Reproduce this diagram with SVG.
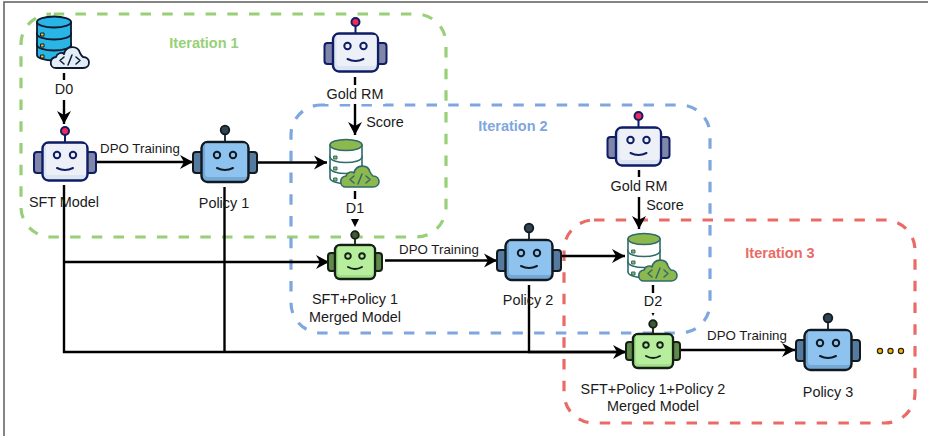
<svg xmlns="http://www.w3.org/2000/svg" width="928" height="436" viewBox="0 0 928 436">
<style>
text{font-family:"Liberation Sans",Arial,sans-serif;font-size:14.400px;fill:#1a1a1a;text-anchor:middle}
.small{font-size:13.300px}
.it{font-size:14.500px;font-weight:bold}
.box{fill:none;stroke-width:3.200;stroke-dasharray:10.500 11.200}
.c{fill:none;stroke:#000;stroke-width:2.400}
.lb{fill:#fff}
.sw{stroke-linejoin:round;stroke-linecap:round}
</style>
<defs>
<marker id="arr" markerUnits="userSpaceOnUse" markerWidth="16" markerHeight="16" refX="14" refY="8" orient="auto"><path d="M1 1L14 8L1 15L5 8Z" fill="#000"/></marker>
<g id="robot-gold" class="sw">
<rect x="-31" y="-10" width="10" height="21" rx="3" fill="#7f86a8" stroke="#0f1c66" stroke-width="2"/>
<rect x="21" y="-10" width="10" height="21" rx="3" fill="#7f86a8" stroke="#0f1c66" stroke-width="2"/>
<path d="M0 -20V-27" stroke="#0f1c66" stroke-width="2"/>
<circle cx="0" cy="-31" r="4" fill="#ef2a5a" stroke="#0f1c66" stroke-width="2"/>
<rect x="-22.500" y="-19.500" width="45" height="38" rx="6" fill="#dce5f2" stroke="#0f1c66" stroke-width="2.400"/>
<path d="M-19 -18H19Q21 -18 21 -16V10Q21 13 18 13H-16Q-19 13 -19 10Z" fill="#edf1f7"/>
<g stroke="#0f1c66" fill="none"><circle cx="-8" cy="-7" r="3.200" stroke-width="2"/><circle cx="8" cy="-7" r="3.200" stroke-width="2"/><path d="M-8 6Q0 10 8 6" stroke-width="2"/></g>
</g>
<g id="robot-blue" class="sw">
<rect x="-32" y="-10" width="10" height="21" rx="3" fill="#557a9e" stroke="#101a20" stroke-width="2"/>
<rect x="22" y="-10" width="10" height="21" rx="3" fill="#557a9e" stroke="#101a20" stroke-width="2"/>
<path d="M0 -20V-28" stroke="#2a3a44" stroke-width="2"/>
<circle cx="0" cy="-32" r="4.300" fill="#2f4350" stroke="#101a20" stroke-width="1.800"/>
<rect x="-23.500" y="-20" width="47" height="40" rx="6" fill="#74a9d6" stroke="#101a20" stroke-width="2.400"/>
<path d="M-20 -18.500H20Q22 -18.500 22 -16V13Q22 15 19 15H-17Q-20 15 -20 12Z" fill="#8ec3f0"/>
<g stroke="#101a20" fill="none"><circle cx="-8" cy="-7" r="3.200" stroke-width="2"/><circle cx="8" cy="-7" r="3.200" stroke-width="2"/><path d="M-8 6Q0 10 8 6" stroke-width="2"/></g>
</g>
<g id="robot-green" class="sw">
<rect x="-27" y="-9" width="8" height="18" rx="3" fill="#5f8a4a" stroke="#142014" stroke-width="2"/>
<rect x="19" y="-9" width="8" height="18" rx="3" fill="#5f8a4a" stroke="#142014" stroke-width="2"/>
<path d="M0 -17V-23" stroke="#26351f" stroke-width="2"/>
<circle cx="0" cy="-27" r="3.800" fill="#405a35" stroke="#142014" stroke-width="1.800"/>
<rect x="-20" y="-17" width="40" height="34" rx="5" fill="#a3de88" stroke="#142014" stroke-width="2.400"/>
<path d="M-17 -15.500H17Q18.500 -15.500 18.500 -13V11Q18.500 13 16 13H-15Q-17 13 -17 11Z" fill="#b7ee9d"/>
<g stroke="#142014" fill="none"><circle cx="-7" cy="-6" r="2.800" stroke-width="1.900"/><circle cx="7" cy="-6" r="2.800" stroke-width="1.900"/><path d="M-7 5Q0 9 7 5" stroke-width="2"/></g>
</g>
<g id="db-blue" class="sw" stroke="#0d1a2e" stroke-width="1.800">
<path d="M-17 5V17a17 5.500 0 0 0 34 0V5Z" fill="#29b6e6"/>
<path d="M-17 -5V7a17 5.500 0 0 0 34 0V-5Z" fill="#29b6e6"/>
<path d="M-17 -16V-4a17 5.500 0 0 0 34 0V-16Z" fill="#29b6e6"/>
<ellipse cx="0" cy="-16" rx="17" ry="5.500" fill="#29b6e6"/>
<rect x="-13" y="-5" width="3" height="3" fill="#ffc61a" stroke-width="1"/><rect x="-13" y="6" width="3" height="3" fill="#ffc61a" stroke-width="1"/><rect x="-13" y="17" width="3" height="3" fill="#ffc61a" stroke-width="1"/>
<g transform="translate(2 4)">
<path d="M0 26C-7 26 -7 16 0 15C1 11 6 10 8 12C10 3 22 3 24 11C25 13 26 14 27 15C35 15 35 26 27 26Z" fill="#e3edf7"/>
<path d="M8 15l-4 3.500l4 3.500M20 15l4 3.500l-4 3.500M16 13l-4 10" fill="none" stroke-width="1.500"/>
</g>
</g>
<g id="db-green" class="sw" stroke="#2f6b6b" stroke-width="1.600">
<path d="M-16 5V17a16 5.500 0 0 0 32 0V5Z" fill="#fff"/>
<path d="M-16 -5V7a16 5.500 0 0 0 32 0V-5Z" fill="#fff"/>
<path d="M-16 -16V-4a16 5.500 0 0 0 32 0V-16Z" fill="#fff"/>
<ellipse cx="0" cy="-16" rx="16" ry="5.500" fill="#8cb84e"/>
<rect x="-12" y="-5" width="3" height="3" fill="#8cb84e" stroke-width="1"/><rect x="-12" y="6" width="3" height="3" fill="#8cb84e" stroke-width="1"/><rect x="-12" y="17" width="3" height="3" fill="#8cb84e" stroke-width="1"/>
<path d="M0 26C-7 26 -7 16 0 15C1 11 6 10 8 12C10 3 22 3 24 11C25 13 26 14 27 15C35 15 35 26 27 26Z" fill="#8cb84e"/>
<path d="M8 15l-4 3.500l4 3.500M20 15l4 3.500l-4 3.500M16 13l-4 10" fill="none" stroke-width="1.500"/>
</g>
</defs>
<rect x="4" y="2" width="940" height="450" fill="#fff" stroke="#666" stroke-width="1.600"/>
<g id="iteration-boxes">
<rect id="box1" class="box" x="21" y="14" width="425" height="223" rx="30" stroke="#97d077" stroke-dashoffset="19"/>
<rect id="box2" class="box" x="291" y="105" width="419" height="228" rx="30" stroke="#7ea6e0" stroke-dashoffset="3"/>
<rect id="box3" class="box" x="564" y="220" width="351" height="203" rx="30" stroke="#ea6b66"/>
</g>
<g id="connectors">
<path class="c" d="M64 73V124" marker-end="url(#arr)"/>
<path class="c" d="M95 162H193" marker-end="url(#arr)"/>
<path class="c" d="M257 162.500H327" marker-end="url(#arr)"/>
<path class="c" d="M64 185V352H626" marker-end="url(#arr)"/>
<path class="c" d="M64 262H329" marker-end="url(#arr)"/>
<path class="c" d="M224.500 187V352"/>
<path class="c" d="M529 285V352H626"/>
<path class="c" d="M385 260.500H497" marker-end="url(#arr)"/>
<path class="c" d="M561 256H625" marker-end="url(#arr)"/>
<path class="c" d="M680 350H795" marker-end="url(#arr)"/>
<path class="c" d="M355 77V135" marker-end="url(#arr)"/>
<path class="c" d="M639 170V229" marker-end="url(#arr)"/>
<path class="c" d="M355 191V199"/>
<path d="M351 219H359L355 227Z" fill="#000"/>
<path class="c" d="M653 285V293"/>
<path d="M651.500 313H654.500L653 316Z" fill="#000"/>
</g>
<g id="labels-bg">
<rect class="lb" x="54" y="80" width="20" height="20"/>
<rect class="lb" x="325" y="85" width="60" height="19"/>
<rect class="lb" x="345" y="199" width="20" height="19"/>
<rect class="lb" x="609" y="177" width="60" height="20"/>
<rect class="lb" x="643" y="293" width="20" height="18"/>
</g>
<g id="node-d0"><use href="#db-blue" x="54" y="38"/><text x="64" y="94">D0</text></g>
<g id="node-sft"><use href="#robot-gold" x="65" y="162"/><text x="64" y="207">SFT Model</text></g>
<g id="node-policy1"><use href="#robot-blue" x="225" y="162"/><text x="224" y="208">Policy 1</text></g>
<g id="node-gold1"><use href="#robot-gold" x="355.500" y="53"/><text x="355" y="99">Gold RM</text></g>
<g id="node-d1"><use href="#db-green" x="346" y="161"/><text x="355" y="213">D1</text></g>
<g id="node-merged1"><use href="#robot-green" x="355" y="262"/><text x="355" y="304">SFT+Policy 1</text><text x="355" y="322">Merged Model</text></g>
<g id="node-policy2"><use href="#robot-blue" x="529" y="260"/><text x="528" y="305">Policy 2</text></g>
<g id="node-gold2"><use href="#robot-gold" x="638.500" y="147"/><text x="639" y="191">Gold RM</text></g>
<g id="node-d2"><use href="#db-green" x="644" y="255"/><text x="653" y="306">D2</text></g>
<g id="node-merged2"><use href="#robot-green" x="653" y="351"/><text x="653" y="394">SFT+Policy 1+Policy 2</text><text x="653" y="411">Merged Model</text></g>
<g id="node-policy3"><use href="#robot-blue" x="828" y="350"/><text x="828" y="397">Policy 3</text></g>
<g id="ellipsis" fill="#ffb300" stroke="#222" stroke-width="1.200"><circle cx="880" cy="351" r="2.600"/><circle cx="890.500" cy="351" r="2.600"/><circle cx="901" cy="351" r="2.600"/></g>
<g id="edge-labels">
<text class="small" x="140" y="153">DPO Training</text>
<text class="small" x="439" y="254">DPO Training</text>
<text class="small" x="747" y="340">DPO Training</text>
<text x="385" y="127">Score</text>
<text x="665" y="210">Score</text>
</g>
<g id="iteration-labels">
<text class="it" x="204" y="48" style="fill:#97d077">Iteration 1</text>
<text class="it" x="513" y="131" style="fill:#7ea6e0">Iteration 2</text>
<text class="it" x="780" y="258" style="fill:#ea6b66">Iteration 3</text>
</g>
</svg>
